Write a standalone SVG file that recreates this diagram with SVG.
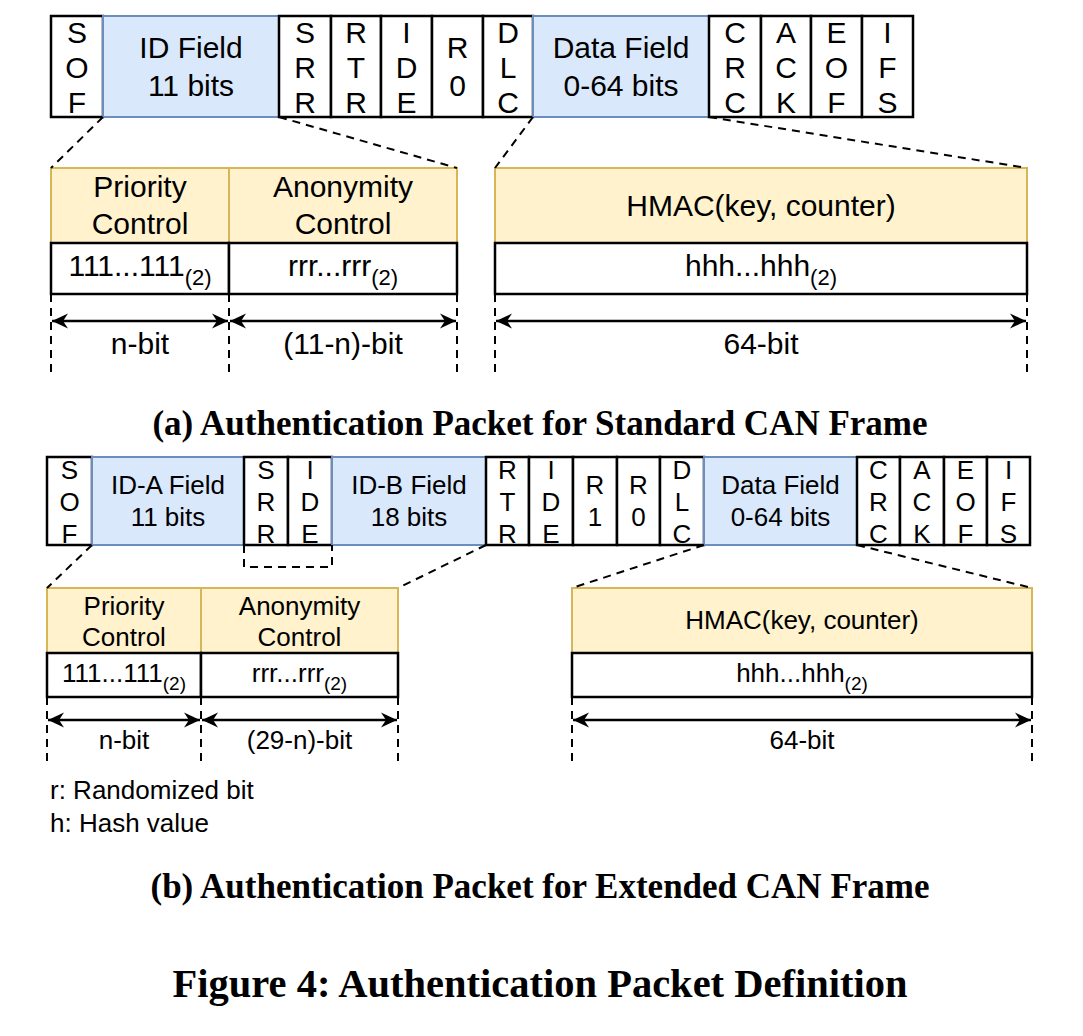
<svg xmlns="http://www.w3.org/2000/svg" width="1083" height="1036" viewBox="0 0 1083 1036">
<style>
.w{fill:#fff;stroke:#000;stroke-width:2.5}
.b{fill:#dae8fc;stroke:#6c8ebf;stroke-width:2}
.y{fill:#fff2cc;stroke:#d6b656;stroke-width:2}
.t{font-family:"Liberation Sans",Arial,sans-serif;fill:#000;text-anchor:middle}
.ta{font-size:30px}
.tb{font-size:26px}
.d{fill:none;stroke:#000;stroke-width:2;stroke-dasharray:8 6}
.ar{fill:none;stroke:#000;stroke-width:2.5;marker-start:url(#ah);marker-end:url(#ah)}
.cap{font-family:"Liberation Serif","Times New Roman",serif;font-weight:bold;fill:#000;text-anchor:middle}
</style>
<defs>
<marker id="ah" viewBox="-16 -8 17 16" refX="0" refY="0" markerWidth="17" markerHeight="16" markerUnits="userSpaceOnUse" orient="auto-start-reverse">
<path d="M0,0 L-16,-7.5 L-11,0 L-16,7.5 Z" fill="#000"/>
</marker>
</defs>
<rect width="1083" height="1036" fill="#fff"/>

<!-- ===== (a) top frame ===== -->
<g id="a-sof"><rect class="w" x="51" y="16" width="52" height="101"/><text class="t ta" x="77" y="43">S</text><text class="t ta" x="77" y="78">O</text><text class="t ta" x="77" y="113">F</text></g>
<g id="a-id"><rect class="b" x="103" y="16" width="176" height="101"/><text class="t ta" x="191" y="58">ID Field</text><text class="t ta" x="191" y="96">11 bits</text></g>
<g id="a-srr"><rect class="w" x="279" y="16" width="52" height="101"/><text class="t ta" x="305" y="43">S</text><text class="t ta" x="305" y="78">R</text><text class="t ta" x="305" y="113">R</text></g>
<g id="a-rtr"><rect class="w" x="331" y="16" width="50" height="101"/><text class="t ta" x="356" y="43">R</text><text class="t ta" x="356" y="78">T</text><text class="t ta" x="356" y="113">R</text></g>
<g id="a-ide"><rect class="w" x="381" y="16" width="51" height="101"/><text class="t ta" x="406.5" y="43">I</text><text class="t ta" x="406.5" y="78">D</text><text class="t ta" x="406.5" y="113">E</text></g>
<g id="a-r0"><rect class="w" x="432" y="16" width="51" height="101"/><text class="t ta" x="457.5" y="58">R</text><text class="t ta" x="457.5" y="96">0</text></g>
<g id="a-dlc"><rect class="w" x="483" y="16" width="50" height="101"/><text class="t ta" x="508" y="43">D</text><text class="t ta" x="508" y="78">L</text><text class="t ta" x="508" y="113">C</text></g>
<g id="a-data"><rect class="b" x="533" y="16" width="176" height="101"/><text class="t ta" x="621" y="58">Data Field</text><text class="t ta" x="621" y="96">0-64 bits</text></g>
<g id="a-crc"><rect class="w" x="709" y="16" width="52" height="101"/><text class="t ta" x="735" y="43">C</text><text class="t ta" x="735" y="78">R</text><text class="t ta" x="735" y="113">C</text></g>
<g id="a-ack"><rect class="w" x="761" y="16" width="50" height="101"/><text class="t ta" x="786" y="43">A</text><text class="t ta" x="786" y="78">C</text><text class="t ta" x="786" y="113">K</text></g>
<g id="a-eof"><rect class="w" x="811" y="16" width="51" height="101"/><text class="t ta" x="836.5" y="43">E</text><text class="t ta" x="836.5" y="78">O</text><text class="t ta" x="836.5" y="113">F</text></g>
<g id="a-ifs"><rect class="w" x="862" y="16" width="51" height="101"/><text class="t ta" x="887.5" y="43">I</text><text class="t ta" x="887.5" y="78">F</text><text class="t ta" x="887.5" y="113">S</text></g>

<!-- (a) detail -->
<g id="a-prio"><rect class="y" x="51" y="168" width="178" height="75"/><text class="t ta" x="140" y="197">Priority</text><text class="t ta" x="140" y="234">Control</text></g>
<g id="a-anon"><rect class="y" x="229" y="168" width="228" height="75"/><text class="t ta" x="343" y="197">Anonymity</text><text class="t ta" x="343" y="234">Control</text></g>
<g id="a-prio-val"><rect class="w" x="51" y="243" width="178" height="51"/><text class="t ta" x="140" y="276">111...111<tspan font-size="22" dy="9">(2)</tspan></text></g>
<g id="a-anon-val"><rect class="w" x="229" y="243" width="228" height="51"/><text class="t ta" x="343" y="276">rrr...rrr<tspan font-size="22" dy="9">(2)</tspan></text></g>
<g id="a-hmac"><rect class="y" x="495" y="168" width="532" height="75"/><text class="t ta" x="761" y="216">HMAC(key, counter)</text></g>
<g id="a-hmac-val"><rect class="w" x="495" y="243" width="532" height="51"/><text class="t ta" x="761" y="276">hhh...hhh<tspan font-size="22" dy="9">(2)</tspan></text></g>
<g id="a-labels"><text class="t ta" x="140" y="354">n-bit</text><text class="t ta" x="343" y="354">(11-n)-bit</text><text class="t ta" x="761" y="354">64-bit</text></g>

<!-- ===== (b) top frame ===== -->
<g id="b-sof"><rect class="w" x="47" y="457" width="45" height="88"/><text class="t tb" x="69.5" y="479">S</text><text class="t tb" x="69.5" y="511">O</text><text class="t tb" x="69.5" y="543">F</text></g>
<g id="b-ida"><rect class="b" x="92" y="457" width="152" height="88"/><text class="t tb" x="168" y="494">ID-A Field</text><text class="t tb" x="168" y="526">11 bits</text></g>
<g id="b-srr"><rect class="w" x="244" y="457" width="44" height="88"/><text class="t tb" x="266" y="479">S</text><text class="t tb" x="266" y="511">R</text><text class="t tb" x="266" y="543">R</text></g>
<g id="b-ide1"><rect class="w" x="288" y="457" width="44" height="88"/><text class="t tb" x="310" y="479">I</text><text class="t tb" x="310" y="511">D</text><text class="t tb" x="310" y="543">E</text></g>
<g id="b-idb"><rect class="b" x="332" y="457" width="154" height="88"/><text class="t tb" x="409" y="494">ID-B Field</text><text class="t tb" x="409" y="526">18 bits</text></g>
<g id="b-rtr"><rect class="w" x="486" y="457" width="43" height="88"/><text class="t tb" x="507.5" y="479">R</text><text class="t tb" x="507.5" y="511">T</text><text class="t tb" x="507.5" y="543">R</text></g>
<g id="b-ide2"><rect class="w" x="529" y="457" width="44" height="88"/><text class="t tb" x="551" y="479">I</text><text class="t tb" x="551" y="511">D</text><text class="t tb" x="551" y="543">E</text></g>
<g id="b-r1"><rect class="w" x="573" y="457" width="44" height="88"/><text class="t tb" x="595" y="494">R</text><text class="t tb" x="595" y="526">1</text></g>
<g id="b-r0"><rect class="w" x="617" y="457" width="43" height="88"/><text class="t tb" x="638.5" y="494">R</text><text class="t tb" x="638.5" y="526">0</text></g>
<g id="b-dlc"><rect class="w" x="660" y="457" width="44" height="88"/><text class="t tb" x="682" y="479">D</text><text class="t tb" x="682" y="511">L</text><text class="t tb" x="682" y="543">C</text></g>
<g id="b-data"><rect class="b" x="704" y="457" width="153" height="88"/><text class="t tb" x="780.5" y="494">Data Field</text><text class="t tb" x="780.5" y="526">0-64 bits</text></g>
<g id="b-crc"><rect class="w" x="857" y="457" width="43" height="88"/><text class="t tb" x="878.5" y="479">C</text><text class="t tb" x="878.5" y="511">R</text><text class="t tb" x="878.5" y="543">C</text></g>
<g id="b-ack"><rect class="w" x="900" y="457" width="44" height="88"/><text class="t tb" x="922" y="479">A</text><text class="t tb" x="922" y="511">C</text><text class="t tb" x="922" y="543">K</text></g>
<g id="b-eof"><rect class="w" x="944" y="457" width="43" height="88"/><text class="t tb" x="965.5" y="479">E</text><text class="t tb" x="965.5" y="511">O</text><text class="t tb" x="965.5" y="543">F</text></g>
<g id="b-ifs"><rect class="w" x="987" y="457" width="43" height="88"/><text class="t tb" x="1008.5" y="479">I</text><text class="t tb" x="1008.5" y="511">F</text><text class="t tb" x="1008.5" y="543">S</text></g>

<!-- (b) detail -->
<g id="b-prio"><rect class="y" x="47" y="588" width="154" height="65"/><text class="t tb" x="124" y="615">Priority</text><text class="t tb" x="124" y="646">Control</text></g>
<g id="b-anon"><rect class="y" x="201" y="588" width="197" height="65"/><text class="t tb" x="299.5" y="615">Anonymity</text><text class="t tb" x="299.5" y="646">Control</text></g>
<g id="b-prio-val"><rect class="w" x="47" y="653" width="154" height="44"/><text class="t tb" x="124" y="682">111...111<tspan font-size="19" dy="8">(2)</tspan></text></g>
<g id="b-anon-val"><rect class="w" x="201" y="653" width="197" height="44"/><text class="t tb" x="299.5" y="682">rrr...rrr<tspan font-size="19" dy="8">(2)</tspan></text></g>
<g id="b-hmac"><rect class="y" x="572" y="588" width="460" height="65"/><text class="t tb" x="802" y="629">HMAC(key, counter)</text></g>
<g id="b-hmac-val"><rect class="w" x="572" y="653" width="460" height="44"/><text class="t tb" x="802" y="682">hhh...hhh<tspan font-size="19" dy="8">(2)</tspan></text></g>
<g id="b-labels"><text class="t tb" x="124" y="749">n-bit</text><text class="t tb" x="299.5" y="749">(29-n)-bit</text><text class="t tb" x="802" y="749">64-bit</text></g>
<g id="legend"><text class="t" style="font-size:26px;text-anchor:start" x="50" y="799">r: Randomized bit</text><text class="t" style="font-size:26px;text-anchor:start" x="50" y="832">h: Hash value</text></g>

<!-- connectors -->
<g id="connectors">
<line class="d" x1="103" y1="117" x2="51" y2="168"/>
<line class="d" x1="279" y1="117" x2="457" y2="168"/>
<line class="d" x1="533" y1="117" x2="495" y2="168"/>
<line class="d" x1="709" y1="117" x2="1027" y2="168"/>
<line class="d" x1="51" y1="294" x2="51" y2="372"/>
<line class="d" x1="229" y1="294" x2="229" y2="372"/>
<line class="d" x1="457" y1="294" x2="457" y2="372"/>
<line class="d" x1="495" y1="294" x2="495" y2="372"/>
<line class="d" x1="1027" y1="294" x2="1027" y2="372"/>
<line class="ar" x1="52" y1="321" x2="228" y2="321"/>
<line class="ar" x1="230" y1="321" x2="456" y2="321"/>
<line class="ar" x1="496" y1="321" x2="1026" y2="321"/>

<line class="d" x1="92" y1="545" x2="47" y2="588"/>
<line class="d" x1="486" y1="545" x2="398" y2="588"/>
<line class="d" x1="704" y1="545" x2="572" y2="588"/>
<line class="d" x1="857" y1="545" x2="1032" y2="588"/>
<polyline class="d" points="244,545 244,567 332,567 332,545"/>
<line class="d" x1="47" y1="697" x2="47" y2="765"/>
<line class="d" x1="201" y1="697" x2="201" y2="765"/>
<line class="d" x1="398" y1="697" x2="398" y2="765"/>
<line class="d" x1="572" y1="697" x2="572" y2="765"/>
<line class="d" x1="1032" y1="697" x2="1032" y2="765"/>
<line class="ar" x1="48" y1="720" x2="200" y2="720"/>
<line class="ar" x1="202" y1="720" x2="397" y2="720"/>
<line class="ar" x1="573" y1="720" x2="1031" y2="720"/>
</g>

<g id="captions">
<text class="cap" x="540" y="435" font-size="35">(a) Authentication Packet for Standard CAN Frame</text>
<text class="cap" x="540" y="898" font-size="35">(b) Authentication Packet for Extended CAN Frame</text>
<text class="cap" x="540" y="997" font-size="40.5">Figure 4: Authentication Packet Definition</text>
</g>
</svg>
